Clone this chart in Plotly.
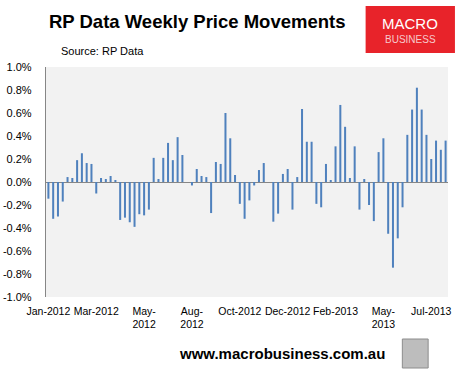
import plotly.graph_objects as go

# Weekly price movement (%), Jan-2012 .. Jul-2013
values = [
    -0.145, -0.32, -0.30, -0.17, 0.043, 0.035, 0.19, 0.25, 0.165, 0.157,
    -0.10, 0.035, 0.026, 0.052, 0.01, -0.33, -0.31, -0.35, -0.39, -0.28,
    -0.29, -0.24, 0.21, 0.026, 0.21, 0.34, 0.19, 0.39, 0.235, 0.0,
    -0.03, 0.113, 0.052, 0.043, -0.27, 0.174, 0.157, 0.60, 0.38, 0.061,
    -0.19, -0.32, -0.16, -0.03, 0.104, 0.165, 0.0, -0.345, -0.275, 0.07,
    0.113, -0.24, 0.043, 0.635, 0.35, 0.35, -0.19, -0.22, 0.157, 0.01,
    0.31, 0.67, 0.48, 0.035, 0.31, -0.24, 0.026, -0.20, -0.34, 0.26,
    0.38, -0.45, -0.745, -0.49, -0.22, 0.41, 0.63, 0.82, 0.63, 0.41,
    0.20, 0.36, 0.28, 0.36,
]
weeks = list(range(len(values)))

tick_labels = ["Jan-2012", "Mar-2012", "May-<br>2012", "Aug-<br>2012", "Oct-2012",
               "Dec-2012", "Feb-2013", "May-<br>2013", "Jul-2013"]
tick_every = 10
tick_positions = [i * tick_every for i in range(len(tick_labels))]

y_ticks = [1.0, 0.8, 0.6, 0.4, 0.2, 0.0, -0.2, -0.4, -0.6, -0.8, -1.0]

fig = go.Figure()
fig.add_trace(go.Bar(x=weeks, y=values, marker=dict(color="#4F81BD", line=dict(width=0)),
                     hoverinfo="y"))

font_axis = dict(family="Liberation Sans", size=10.5, color="#000000")

fig.update_layout(
    width=463, height=375,
    margin=dict(l=46, r=12, t=67, b=78),
    paper_bgcolor="white",
    plot_bgcolor="#F2F2F2",
    bargap=0.58,
    showlegend=False,
    xaxis=dict(
        range=[-0.5, len(values) - 0.5],
        tickmode="array", tickvals=tick_positions, ticktext=tick_labels,
        showgrid=False, zeroline=False, showline=False, ticks="",
        tickfont=font_axis, tickangle=0, ticklabelstandoff=6,
    ),
    yaxis=dict(
        range=[-1.0, 1.0],
        tickmode="array", tickvals=y_ticks,
        ticktext=[f"{v:.1f}%" for v in y_ticks],
        showgrid=False, zeroline=True, zerolinecolor="#868686", zerolinewidth=1.3,
        showline=True, linecolor="#868686", linewidth=1.3, ticks="",
        tickfont=dict(family="Liberation Sans", size=11, color="#000000"),
        ticklabelstandoff=11, automargin=False,
    ),
    shapes=[
        dict(type="rect", xref="paper", yref="paper",
             x0=(368 - 46) / 405, x1=(458 - 46) / 405,
             y0=(297 - 53) / 230, y1=(297 - 6) / 230,
             fillcolor="#E8232A", line=dict(width=0), layer="above"),
        dict(type="rect", xref="paper", yref="paper",
             x0=(405 - 46) / 405, x1=(431 - 46) / 405,
             y0=(297 - 368) / 230, y1=(297 - 339) / 230,
             fillcolor="#BDBDBD", line=dict(width=1, color="#8C8C8C"), layer="above"),
    ],
    annotations=[
        dict(text="<b>RP Data Weekly Price Movements</b>", xref="paper", yref="paper",
             x=(198 - 46) / 405, y=(297 - 21) / 230, showarrow=False,
             xanchor="center", yanchor="middle",
             font=dict(family="Liberation Sans", size=18.5, color="#000000")),
        dict(text="Source: RP Data", xref="paper", yref="paper",
             x=(59 - 46) / 405, y=(297 - 51) / 230, showarrow=False,
             xanchor="left", yanchor="middle",
             font=dict(family="Liberation Sans", size=11, color="#000000")),
        dict(text="MACRO", xref="paper", yref="paper",
             x=(413 - 46) / 405, y=(297 - 23) / 230, showarrow=False,
             xanchor="center", yanchor="middle",
             font=dict(family="Liberation Sans", size=15, color="#FFFFFF")),
        dict(text="BUSINESS", xref="paper", yref="paper",
             x=(413 - 46) / 405, y=(297 - 39) / 230, showarrow=False,
             xanchor="center", yanchor="middle",
             font=dict(family="Liberation Sans", size=10, color="#F6C9CA")),
        dict(text="<b>www.macrobusiness.com.au</b>", xref="paper", yref="paper",
             x=(284 - 46) / 405, y=(297 - 353) / 230, showarrow=False,
             xanchor="center", yanchor="middle",
             font=dict(family="Liberation Sans", size=15, color="#000000")),
    ],
)

fig.write_html("out.html", config={"displayModeBar": False},
               post_script="document.body.style.margin='0';")
